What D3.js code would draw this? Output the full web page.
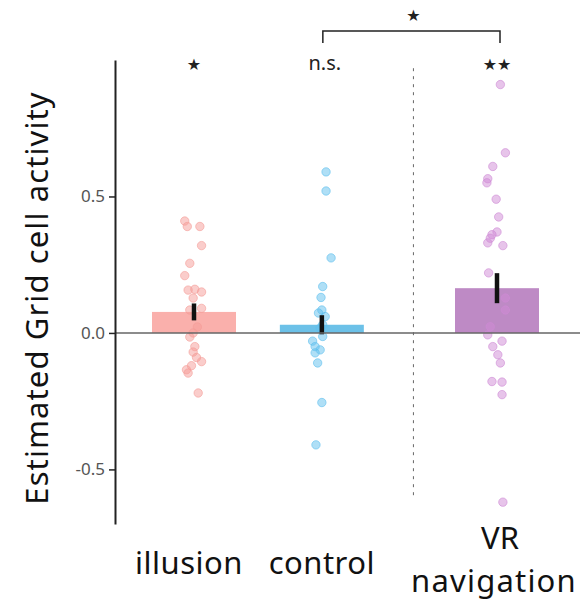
<!DOCTYPE html>
<html>
<head>
<meta charset="utf-8">
<script src="https://cdn.jsdelivr.net/npm/d3@7"></script>
<style>
  body { margin: 0; background: #fff; }
  svg text { font-family: "Noto Sans", "DejaVu Sans", sans-serif; }
</style>
</head>
<body>
<div id="chart"></div>
<script>
// 画布大小
const width = 584, height = 606;

// 数据
const categories = ["illusion", "control", "VR navigation"];
const barMeans = [0.077, 0.030, 0.164];
const barSems = [0.031, 0.035, 0.055];
const barColors = ["#f9a7a3", "#5cbae6", "#b77dbf"];
const dotColors = ["#f59c97", "#5fc0ee", "#cf8ad6"];
const topMarks = ["★", "n.s.", "★★"];
const yTicks = [-0.5, 0.0, 0.5];

// 每组的点: 数值 和 水平抖动 (相对于柱宽的比例)
const illusionVals = [0.41, 0.39, 0.39, 0.32, 0.255, 0.21, 0.157, 0.16, 0.15, 0.128, 0.09, 0.084, 0.022, 0.0, -0.015, -0.05, -0.07, -0.09, -0.105, -0.12, -0.135, -0.147, -0.22];
const illusionJit = [-0.11, -0.08, 0.07, 0.09, -0.05, -0.11, -0.07, 0.01, 0.09, -0.01, 0.09, -0.05, 0.04, -0.01, -0.05, 0.01, -0.01, 0.03, 0.09, -0.03, -0.09, -0.07, 0.05];
const controlVals = [0.59, 0.52, 0.275, 0.17, 0.13, 0.084, 0.073, 0.06, 0.03, 0.018, -0.013, -0.03, -0.05, -0.062, -0.073, -0.11, -0.255, -0.41];
const controlJit = [0.05, 0.05, 0.11, 0.01, -0.01, 0.0, -0.04, 0.04, 0.01, -0.02, 0.01, -0.11, -0.08, -0.02, -0.08, -0.05, 0.0, -0.07];
const vrVals = [0.91, 0.66, 0.61, 0.565, 0.55, 0.49, 0.425, 0.37, 0.36, 0.347, 0.33, 0.32, 0.22, 0.128, 0.084, 0.023, -0.007, -0.03, -0.05, -0.08, -0.11, -0.178, -0.18, -0.226, -0.62];
const vrJit = [0.04, 0.1, -0.05, -0.11, -0.12, -0.01, 0.02, 0.0, -0.06, -0.08, -0.11, 0.07, -0.1, 0.1, 0.1, -0.08, -0.11, 0.06, -0.05, 0.01, 0.04, -0.06, 0.06, 0.06, 0.07];
const groupVals = [illusionVals, controlVals, vrVals];
const groupJit = [illusionJit, controlJit, vrJit];

// 布局
const margin = { top: 60, right: 10, bottom: 82, left: 115 };
const groupGap = 0.37; // VR 组与前两组之间额外的间距
const barW = 84;

const svg = d3.select("#chart").append("svg")
    .attr("width", width)
    .attr("height", height);

const y = d3.scaleLinear().domain([-0.7, 1.0]).range([height - margin.bottom, margin.top]);
const slot = i => i + (i >= 2 ? groupGap : 0);
const x = d3.scaleLinear().domain([0, 2 + groupGap]).range([194, 497]);

// 虚线分隔
svg.append("line")
    .attr("x1", x(1.5 + groupGap / 2) + 4).attr("x2", x(1.5 + groupGap / 2) + 4)
    .attr("y1", y(0.97)).attr("y2", y(-0.61))
    .attr("stroke", "#666").attr("stroke-width", 1)
    .attr("stroke-dasharray", "3,5");

// 柱
categories.forEach((c, i) => {
    svg.append("rect")
        .attr("x", x(slot(i)) - barW / 2)
        .attr("y", y(barMeans[i]))
        .attr("width", barW)
        .attr("height", y(0) - y(barMeans[i]))
        .attr("fill", barColors[i])
        .attr("fill-opacity", 0.9);
});

// 点
groupVals.forEach((vals, i) => {
    vals.forEach((v, j) => {
        svg.append("circle")
            .attr("cx", x(slot(i)) + groupJit[i][j] * barW)
            .attr("cy", y(v))
            .attr("r", 4.2)
            .attr("fill", dotColors[i])
            .attr("fill-opacity", 0.5)
            .attr("stroke", dotColors[i])
            .attr("stroke-opacity", 0.6)
            .attr("stroke-width", 1);
    });
});

// 误差线
categories.forEach((c, i) => {
    svg.append("line")
        .attr("x1", x(slot(i))).attr("x2", x(slot(i)))
        .attr("y1", y(barMeans[i] + barSems[i]))
        .attr("y2", y(barMeans[i] - barSems[i]))
        .attr("stroke", "#111").attr("stroke-width", 4.5);
});

// 零线
svg.append("line")
    .attr("x1", margin.left).attr("x2", 580)
    .attr("y1", y(0)).attr("y2", y(0))
    .attr("stroke", "#666").attr("stroke-width", 1.5);

// y 轴
const yAxis = svg.append("g")
    .attr("transform", `translate(${margin.left},0)`)
    .call(d3.axisLeft(y).tickValues(yTicks).tickSize(6).tickSizeOuter(0)
        .tickFormat(d => d3.format(".1f")(d).replace("−", "-")));
yAxis.select(".domain").attr("stroke", "#222").attr("stroke-width", 2);
yAxis.selectAll(".tick line").attr("stroke", "#222").attr("stroke-width", 1.5);
yAxis.selectAll(".tick text")
    .attr("x", -10)
    .attr("fill", "#555")
    .style("font-size", "17px")
    .style("font-family", "'Noto Sans', sans-serif");

// y 轴标题
svg.append("text")
    .attr("transform", `translate(48,298) rotate(-90)`)
    .attr("text-anchor", "middle")
    .attr("fill", "#111")
    .style("font-size", "31px")
    .style("letter-spacing", "1.1px")
    .text("Estimated Grid cell activity");

// x 标签
const xLabelY = 574;
const labelSize = "31px";
svg.append("text").attr("x", x(slot(0)) - 5).attr("y", xLabelY).attr("text-anchor", "middle")
    .style("font-size", labelSize).style("letter-spacing", "0.5px").attr("fill", "#111").text(categories[0]);
svg.append("text").attr("x", x(slot(1))).attr("y", xLabelY).attr("text-anchor", "middle")
    .style("font-size", labelSize).style("letter-spacing", "0.5px").attr("fill", "#111").text(categories[1]);
const vrLabel = categories[2].split(" ");
svg.append("text").attr("x", x(slot(2)) + 3).attr("y", 549).attr("text-anchor", "middle")
    .style("font-size", labelSize).attr("fill", "#111").text(vrLabel[0]);
svg.append("text").attr("x", x(slot(2)) - 3).attr("y", 592).attr("text-anchor", "middle")
    .style("font-size", labelSize).style("letter-spacing", "1.2px").attr("fill", "#111").text(vrLabel[1]);

// 显著性标记
topMarks.forEach((m, i) => {
    svg.append("text")
        .attr("x", x(slot(i)) + (i === 1 ? 3 : 0))
        .attr("y", 70)
        .attr("text-anchor", "middle")
        .attr("fill", "#222")
        .style("font-size", m === "n.s." ? "20px" : "16px")
        .style("font-family", m === "n.s." ? "'Noto Sans', sans-serif" : "'DejaVu Sans', sans-serif")
        .text(m);
});

// control vs VR 括号
const bx1 = x(slot(1)) + 1, bx2 = x(slot(2)) + 3;
svg.append("path")
    .attr("d", `M${bx1},43 V31 H${bx2} V43`)
    .attr("fill", "none").attr("stroke", "#222").attr("stroke-width", 1.5);
svg.append("text")
    .attr("x", (bx1 + bx2) / 2 + 2).attr("y", 21)
    .attr("text-anchor", "middle").attr("fill", "#222")
    .style("font-size", "16px").style("font-family", "'DejaVu Sans', sans-serif")
    .text("★");
</script>
</body>
</html>
